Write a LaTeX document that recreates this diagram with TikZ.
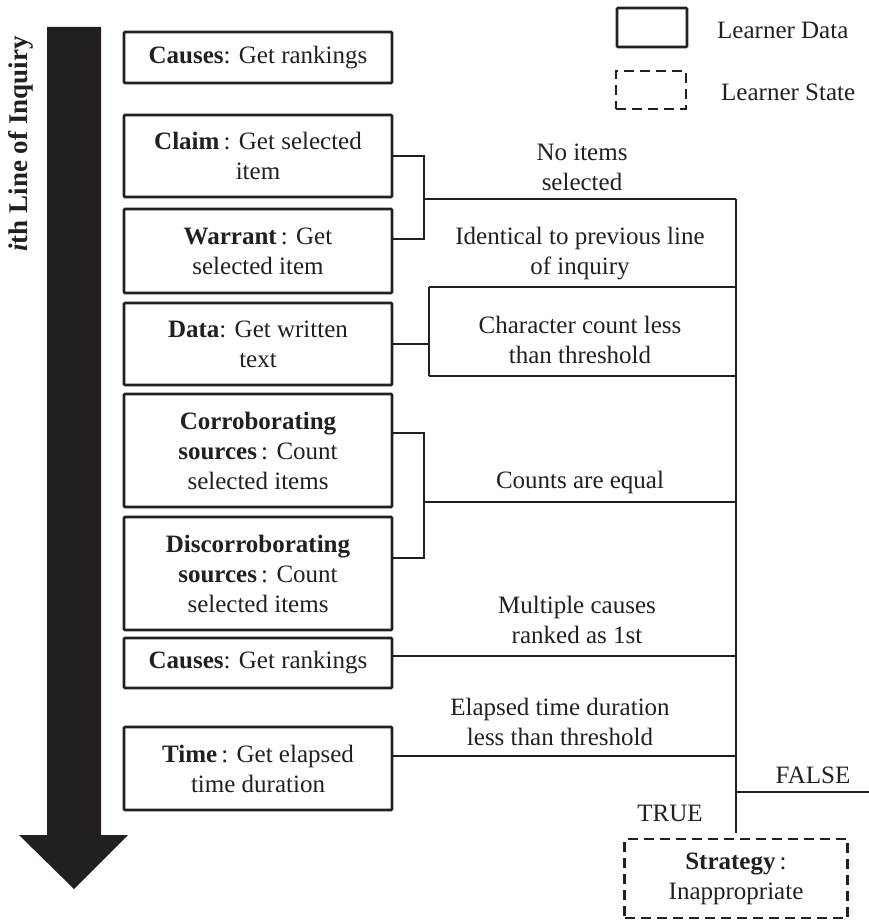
\documentclass[tikz,border=0pt]{standalone}
\usepackage{fontspec}
\setmainfont{Liberation Serif}
\definecolor{ink}{HTML}{231F20}
\begin{document}
\begin{tikzpicture}[x=1pt,y=-1pt,
  every node/.style={font=\fontsize{25}{30}\selectfont, text=ink},
  databox/.style={draw=ink, line width=2.8pt, minimum width=268pt, align=center, inner sep=0pt, rounded corners=1pt},
  statebox/.style={draw=ink, line width=2.8pt, dash pattern=on 10pt off 6pt, align=center, inner sep=0pt},
  conn/.style={draw=ink, line width=2.8pt},
  lbl/.style={align=center, inner sep=0pt}]
\useasboundingbox (0,0) rectangle (869,920);
% big arrow
\fill[ink] (47,27) -- (101,27) -- (101,835) -- (128,835) -- (74,889) -- (19,835) -- (47,835) -- cycle;
\node[rotate=90, inner sep=0pt, font=\fontsize{27}{30}\selectfont] (title) at (21,144) {\textbf{\textit{i}th Line of Inquiry}};
% legend
\node[databox, minimum width=70pt, minimum height=39pt] (legd) at (652,27.5) {};
\node[statebox, minimum width=70pt, minimum height=38pt] (legs) at (651,90) {};
\node[lbl, anchor=west] (legdt) at (717,30) {Learner Data};
\node[lbl, anchor=west] (legst) at (721,92) {Learner State};
% data boxes
\node[databox, minimum height=51pt] (b1) at (258,57.5) {\textbf{Causes}: Get rankings};
\node[databox, minimum height=82pt] (b2) at (258,156) {\textbf{Claim}\,: Get selected\\item};
\node[databox, minimum height=84pt] (b3) at (258,251) {\textbf{Warrant}\,: Get\\selected item};
\node[databox, minimum height=82pt] (b4) at (258,344) {\textbf{Data}: Get written\\text};
\node[databox, minimum height=113pt] (b5) at (258,450.5) {\textbf{Corroborating}\\\textbf{sources}\,: Count\\selected items};
\node[databox, minimum height=113pt] (b6) at (258,573.5) {\textbf{Discorroborating}\\\textbf{sources}\,: Count\\selected items};
\node[databox, minimum height=50pt] (b7) at (258,663) {\textbf{Causes}: Get rankings};
\node[databox, minimum height=83pt] (b8) at (258,768.5) {\textbf{Time}\,: Get elapsed\\time duration};
% state box
\node[statebox, minimum width=223pt, minimum height=79pt] (strat) at (736,878.5) {\textbf{Strategy}\,:\\Inappropriate};
% junction coordinates
\coordinate (j1) at (424,199);
\coordinate (m1) at (736,199);
\coordinate (d1) at (429,287);
\coordinate (d2) at (429,376);
\coordinate (j2) at (424,502);
\coordinate (mb) at (736,833);
\coordinate (f1) at (736,792);
\coordinate (f2) at (869,792);
% connectors
\draw[conn] (b2.east) -| (j1) |- (b3.east |- 0,239);
\draw[conn] (j1) -- (m1);
\draw[conn] (m1) -- (mb);
\draw[conn] (d1) -- (d2);
\draw[conn] (d1) -- (d1 -| m1);
\draw[conn] (d2) -- (d2 -| m1);
\draw[conn] (b4.east) -- (d1 |- b4.east);
\draw[conn] (b5.east |- 0,433) -| (j2) |- (b6.east |- 0,558);
\draw[conn] (j2) -- (j2 -| m1);
\draw[conn] (b7.east |- 0,656) -- (m1 |- 0,656);
\draw[conn] (b8.east |- 0,756) -- (m1 |- 0,756);
\draw[conn] (f1) -- (f2);
% labels
\node[lbl] (l1) at (582,167) {No items\\selected};
\node[lbl] (l2) at (580,254) {Identical to previous line\\of inquiry};
\node[lbl] (l3) at (580,340) {Character count less\\than threshold};
\node[lbl] (l4) at (580,482) {Counts are equal};
\node[lbl] (l5) at (577,620) {Multiple causes\\ranked as 1st};
\node[lbl] (l6) at (560,722) {Elapsed time duration\\less than threshold};
\node[lbl] (lf) at (813,775) {FALSE};
\node[lbl] (lt) at (670,813) {TRUE};
\end{tikzpicture}
\end{document}
